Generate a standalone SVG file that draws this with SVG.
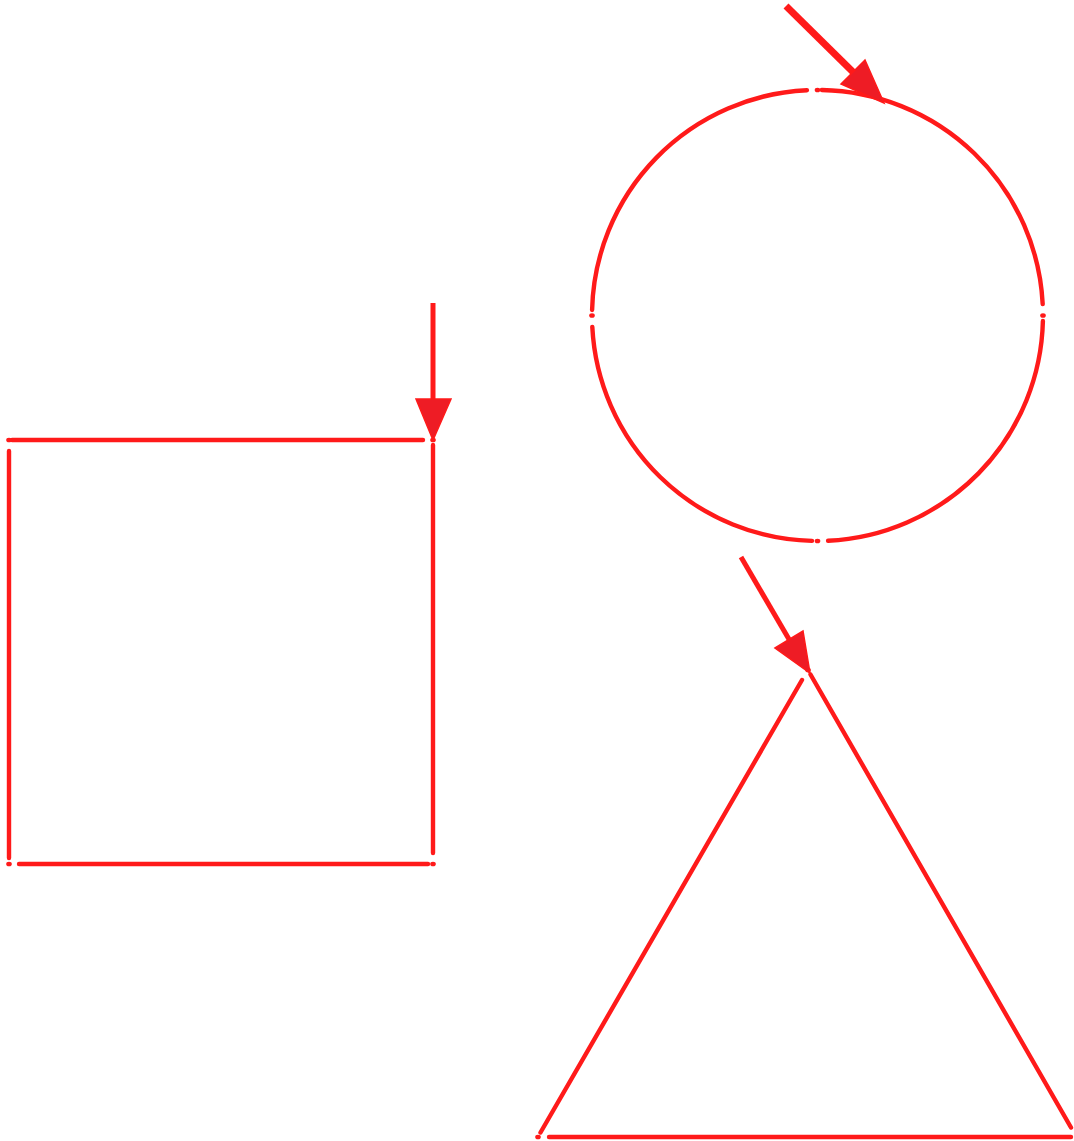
<svg xmlns="http://www.w3.org/2000/svg" width="1074" height="1141" viewBox="0 0 1074 1141">
<style>
.seg{fill:none;stroke:#ff1a1a;stroke-width:4.4;stroke-linecap:round}
.dot{fill:#ff1a1a}
.shaft{fill:none;stroke:#ff1a1a;stroke-linecap:butt}
.head{fill:#ee1c25;stroke:#ff1a1a;stroke-width:1.5;stroke-linejoin:miter}
</style>
<rect width="1074" height="1141" fill="#ffffff"/>
<g id="square">
<line class="seg" x1="12" y1="440" x2="423" y2="440"/>
<line class="seg" x1="433" y1="445" x2="433" y2="853"/>
<line class="seg" x1="428" y1="864" x2="19" y2="864"/>
<line class="seg" x1="9" y1="858" x2="9" y2="451"/>
<ellipse class="dot" cx="9" cy="440" rx="2.8" ry="2.3"/>
<ellipse class="dot" cx="433" cy="440" rx="2.8" ry="2.3"/>
<ellipse class="dot" cx="433" cy="864" rx="2.8" ry="2.3"/>
<ellipse class="dot" cx="9" cy="864" rx="2.8" ry="2.3"/>
</g>
<g id="circle">
<path class="seg" d="M821.8,90 A225.5,225.5 0 0 1 1042.7,304.1"/>
<path class="seg" d="M1042.9,321 A225.5,225.5 0 0 1 828.1,540.8"/>
<path class="seg" d="M812,540.9 A225.5,225.5 0 0 1 592.3,326.9"/>
<path class="seg" d="M592.1,310 A225.5,225.5 0 0 1 806.9,90.2"/>
<ellipse class="dot" cx="817.5" cy="90" rx="2.8" ry="2.3"/>
<ellipse class="dot" cx="1043" cy="315.5" rx="2.8" ry="2.3"/>
<ellipse class="dot" cx="817.5" cy="541" rx="2.8" ry="2.3"/>
<ellipse class="dot" cx="592" cy="315.5" rx="2.8" ry="2.3"/>
</g>
<g id="triangle">
<line class="seg" x1="540.5" y1="1132.5" x2="802" y2="680"/>
<line class="seg" x1="810.5" y1="674.5" x2="1071" y2="1127.5"/>
<line class="seg" x1="1071" y1="1137" x2="549" y2="1137"/>
<ellipse class="dot" cx="538" cy="1137" rx="2.8" ry="2.3"/>
<ellipse class="dot" cx="808" cy="670" rx="2.8" ry="2.3"/>
<ellipse class="dot" cx="1078" cy="1137" rx="2.8" ry="2.3"/>
</g>
<g id="connectors">
<line class="shaft" x1="433" y1="303" x2="433" y2="400" stroke-width="5"/>
<polygon class="head" points="416,399 451,399 433,440"/>
<line class="shaft" x1="786" y1="6" x2="854" y2="73" stroke-width="7"/>
<polygon class="head" points="841,84 865,60 884,103"/>
<line class="shaft" x1="741" y1="557" x2="790" y2="641" stroke-width="5"/>
<polygon class="head" points="775,648 803,631 810,673"/>
</g>
</svg>
